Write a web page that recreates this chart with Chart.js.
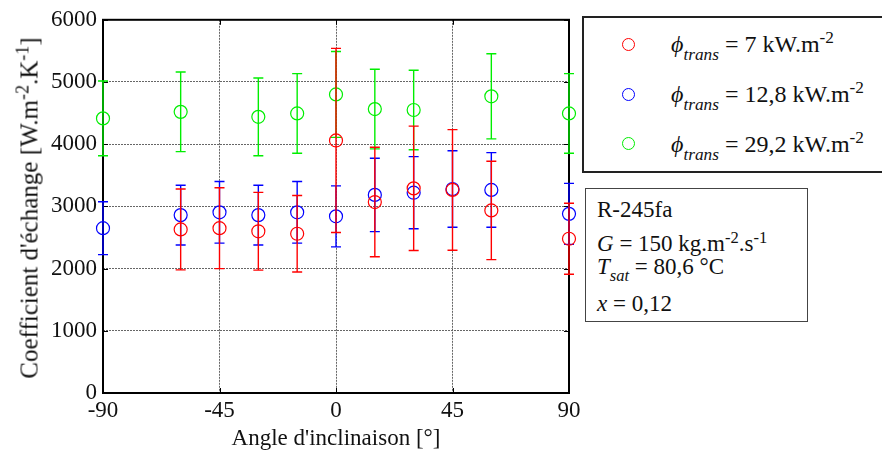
<!DOCTYPE html>
<html>
<head>
<meta charset="utf-8">
<script src="https://cdn.jsdelivr.net/npm/chart.js@4.4.1/dist/chart.umd.min.js"></script>
<style>
body { margin: 0; background: #fff; }
#wrap { position: relative; width: 882px; height: 457px; font-family: "Liberation Serif", "Times New Roman", serif; color: #111; overflow: hidden; }
#chart { position: absolute; left: 0; top: 0; }
.box { position: absolute; box-sizing: border-box; background: #fff; }
#legendBox { left: 582px; top: 16px; width: 320px; height: 157px; border: 2px solid #222; }
#infoBox { left: 585px; top: 188px; width: 223px; height: 134px; border: 1.5px solid #444; }
.mark { position: absolute; width: 13px; height: 13px; border-radius: 50%; box-sizing: border-box; border: 1px solid; }
.line { position: absolute; white-space: nowrap; font-size: 23px; line-height: 23px; }
.leg { font-size: 24px; line-height: 24px; }
i { font-style: italic; }
sub { font-size: 0.72em; vertical-align: -0.45em; line-height: 0; }
sup { font-size: 0.72em; vertical-align: 0.5em; line-height: 0; }
#ytitle { position: absolute; left: 29px; top: 208px; transform: translate(-50%, -50%) rotate(-90deg); white-space: nowrap; font-size: 25px; line-height: 25px; }
</style>
</head>
<body>
<div id="wrap">
  <canvas id="chart" width="882" height="457"></canvas>
  <div id="ytitle">Coefficient d'échange [W.m<sup>-2</sup>.K<sup>-1</sup>]</div>

  <div class="box" id="legendBox"></div>
  <div class="mark" style="left:622px;top:38px;border-color:#ff0000"></div>
  <div class="mark" style="left:622px;top:88px;border-color:#0000ff"></div>
  <div class="mark" style="left:622px;top:137px;border-color:#00ee00"></div>
  <div class="line leg" style="left:671px;top:32px"><i>ϕ</i><sub><i>trans</i></sub> = 7 kW.m<sup>-2</sup></div>
  <div class="line leg" style="left:671px;top:82px"><i>ϕ</i><sub><i>trans</i></sub> = 12,8 kW.m<sup>-2</sup></div>
  <div class="line leg" style="left:671px;top:132px"><i>ϕ</i><sub><i>trans</i></sub> = 29,2 kW.m<sup>-2</sup></div>

  <div class="box" id="infoBox"></div>
  <div class="line" style="left:597px;top:198px">R-245fa</div>
  <div class="line" style="left:597px;top:232px"><i>G</i> = 150 kg.m<sup>-2</sup>.s<sup>-1</sup></div>
  <div class="line" style="left:597px;top:255px"><i>T</i><sub><i>sat</i></sub> = 80,6 °C</div>
  <div class="line" style="left:597px;top:292px"><i>x</i> = 0,12</div>
</div>

<script>
// data
const angles = [-90, -60, -45, -30, -15, 0, 15, 30, 45, 60, 90];

const red      = [null, 2630, 2650, 2600, 2560, 4060, 3070, 3290, 3265, 2935, 2480];
const redErr   = [null,  650,  650,  625,  615, 1480,  880, 1000,  970,  790,  570];

const blue     = [2650, 2860, 2905, 2860, 2905, 2840, 3185, 3220, 3280, 3265, 2880];
const blueErr  = [ 425,  480,  495,  480,  495,  490,  590,  580,  615,  600,  490];

const green    = [4415, 4520, null, 4440, 4495, 4800, 4565, 4550, null, 4770, 4495];
const greenErr = [ 600,  640, null,  625,  640,  690,  640,  640, null,  685,  640];

const xTicks = [-90, -45, 0, 45, 90];
const yTicks = [0, 1000, 2000, 3000, 4000, 5000, 6000];

const font = { family: '"Liberation Serif", "Times New Roman", serif', size: 23 };

function toPoints(vals) {
    return angles.map((a, i) => ({ x: a, y: vals[i] })).filter(p => p.y !== null);
}
function toErr(vals, errs) {
    return errs.filter((e, i) => vals[i] !== null);
}

// error bars, drawn with each dataset so the stacking order is kept
const errorBars = {
    id: 'errorBars',
    beforeDatasetDraw(chart, args) {
        const ds = chart.data.datasets[args.index];
        const xs = chart.scales.x, ys = chart.scales.y;
        const ctx = chart.ctx;
        ctx.save();
        ctx.setLineDash([]);
        ctx.strokeStyle = ds.borderColor;
        ctx.lineWidth = 1.4;
        ds.data.forEach((p, i) => {
            const px = xs.getPixelForValue(p.x);
            const top = ys.getPixelForValue(p.y + ds.errors[i]);
            const bot = ys.getPixelForValue(p.y - ds.errors[i]);
            ctx.beginPath();
            ctx.moveTo(px, top); ctx.lineTo(px, bot);
            ctx.moveTo(px - 5, top); ctx.lineTo(px + 5, top);
            ctx.moveTo(px - 5, bot); ctx.lineTo(px + 5, bot);
            ctx.stroke();
        });
        ctx.restore();
    }
};

// black box round the plot with small inside ticks
const frame = {
    id: 'frame',
    beforeDatasetsDraw(chart) {
        const { left, right, top, bottom } = chart.chartArea;
        const ctx = chart.ctx;
        const xs = chart.scales.x, ys = chart.scales.y;
        ctx.save();
        ctx.setLineDash([]);
        ctx.strokeStyle = '#000';
        ctx.lineWidth = 1;
        ctx.beginPath();
        xTicks.forEach(v => {
            const px = Math.round(xs.getPixelForValue(v)) + 0.5;
            ctx.moveTo(px, bottom); ctx.lineTo(px, bottom - 5);
            ctx.moveTo(px, top); ctx.lineTo(px, top + 5);
        });
        yTicks.forEach(v => {
            const py = Math.round(ys.getPixelForValue(v)) + 0.5;
            ctx.moveTo(left, py); ctx.lineTo(left + 5, py);
            ctx.moveTo(right, py); ctx.lineTo(right - 5, py);
        });
        ctx.stroke();
        ctx.lineWidth = 2;
        ctx.strokeRect(left, top, right - left, bottom - top);
        ctx.restore();
    }
};

function makeSet(label, color, vals, errs) {
    return {
        label: label,
        data: toPoints(vals),
        errors: toErr(vals, errs),
        borderColor: color,
        backgroundColor: 'rgba(0,0,0,0)',
        pointStyle: 'circle',
        pointRadius: 6.5,
        pointBorderWidth: 1.2,
        showLine: false,
        clip: false
    };
}

new Chart(document.getElementById('chart'), {
    type: 'scatter',
    data: {
        datasets: [
            makeSet('7 kW.m-2', '#ff0000', red, redErr),
            makeSet('12,8 kW.m-2', '#0000ff', blue, blueErr),
            makeSet('29,2 kW.m-2', '#00ee00', green, greenErr)
        ]
    },
    options: {
        responsive: false,
        animation: false,
        events: [],
        layout: { padding: { left: 0, right: 313, top: 16, bottom: 0 } },
        plugins: { legend: { display: false }, tooltip: { enabled: false } },
        scales: {
            x: {
                type: 'linear',
                min: -90, max: 90,
                afterBuildTicks: s => { s.ticks = xTicks.map(v => ({ value: v })); },
                afterFit: s => { s.height = 64; },
                grid: { color: '#666', lineWidth: 1, drawTicks: false },
                border: { display: false, dash: [2, 1] },
                ticks: { font: font, color: '#111', padding: 4, maxRotation: 0, autoSkip: false, callback: v => String(v) },
                title: { display: true, text: "Angle d'inclinaison [°]", font: font, color: '#111', padding: { top: 0, bottom: 4 } }
            },
            y: {
                type: 'linear',
                min: 0, max: 6000,
                afterBuildTicks: s => { s.ticks = yTicks.map(v => ({ value: v })); },
                afterFit: s => { s.width = 103; },
                grid: { color: '#666', lineWidth: 1, drawTicks: false },
                border: { display: false, dash: [2, 1] },
                ticks: { font: font, color: '#111', padding: 6, autoSkip: false, callback: v => String(v) }
            }
        }
    },
    plugins: [frame, errorBars]
});
</script>
</body>
</html>
